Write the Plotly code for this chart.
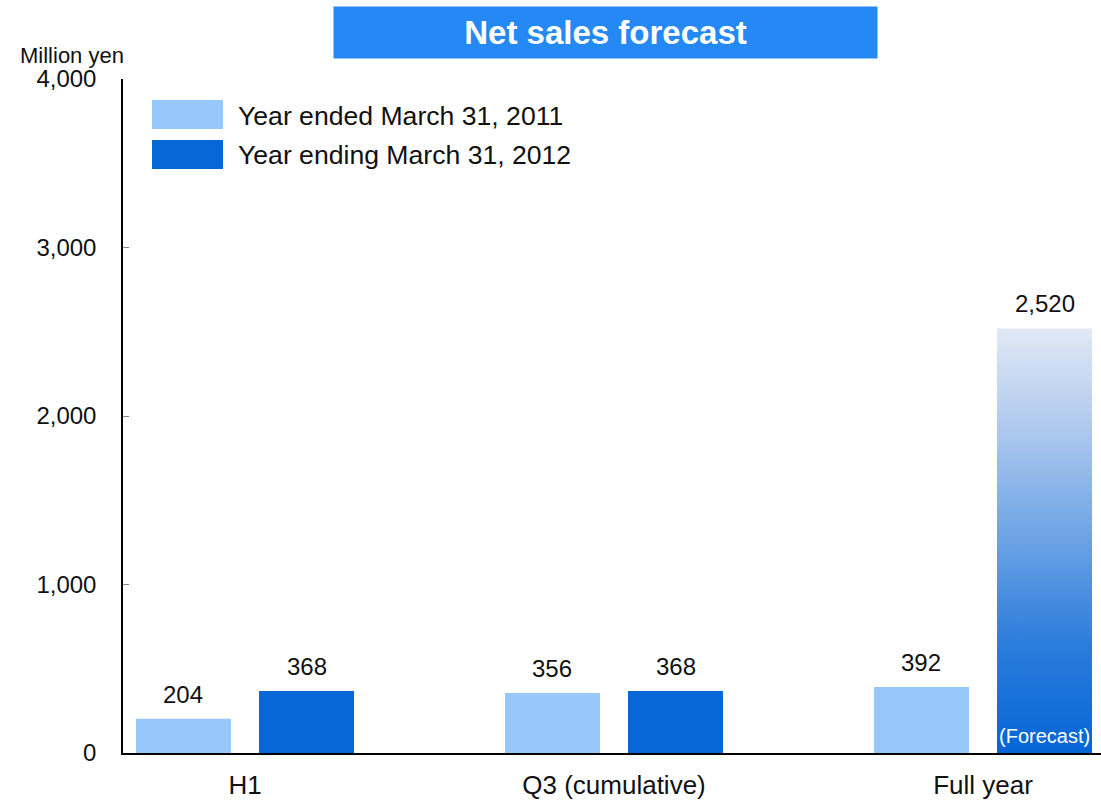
import plotly.graph_objects as go

categories = ["H1", "Q3 (cumulative)", "Full year"]
series_names = ["Year ended March 31, 2011", "Year ending March 31, 2012"]
values_2011 = [204, 356, 392]
values_2012 = [368, 368, 2520]
forecast_flags = [False, False, True]
y_ticks = [0, 1000, 2000, 3000, 4000]
title_text = "Net sales forecast"
unit_text = "Million yen"
forecast_text = "(Forecast)"

LIGHT = "#97C7FB"
DARK = "#0767D6"
FONT = "Liberation Sans, Arial, sans-serif"

W, H = 1101, 801
ML, MR, MT, MB = 123, 0, 79, 48
PW, PH = W - ML - MR, H - MT - MB

def px_x(p):
    return (p - ML) / PW

def px_y(p):
    return (H - MB - p) / PH

BAR_W = 0.2575
CENTER_OFF = 0.1667
offsets = [-CENTER_OFF - BAR_W / 2, CENTER_OFF - BAR_W / 2]
xs = list(range(len(categories)))

fig = go.Figure()

fig.add_trace(go.Bar(
    x=xs, y=values_2011, name=series_names[0], width=BAR_W, offset=offsets[0],
    marker=dict(color=LIGHT, line=dict(width=0)), showlegend=False,
))
colors_2012 = ["rgba(0,0,0,0)" if f else DARK for f in forecast_flags]
fig.add_trace(go.Bar(
    x=xs, y=values_2012, name=series_names[1], width=BAR_W, offset=offsets[1],
    marker=dict(color=colors_2012, line=dict(width=0)), showlegend=False,
))

# gradient fill for forecast bars
for i, (v, f) in enumerate(zip(values_2012, forecast_flags)):
    if not f:
        continue
    x0 = xs[i] + offsets[1]
    x1 = x0 + BAR_W
    fig.add_trace(go.Scatter(
        x=[x0, x1, x1, x0, x0], y=[0, 0, v, v, 0], mode="lines",
        line=dict(width=0), fill="toself",
        fillgradient=dict(type="vertical", start=0, stop=v,
                          colorscale=[[0, "#0565D5"], [0.25, "#2A7CDB"],
                                      [0.5, "#6AA2E5"], [0.75, "#ABC7EE"],
                                      [1, "#E1E8F5"]]),
        showlegend=False, hoverinfo="skip",
    ))
    fig.add_annotation(x=xs[i] + offsets[1] + BAR_W / 2, y=0, text=forecast_text,
                       showarrow=False, yanchor="bottom", yshift=4,
                       font=dict(family=FONT, size=20, color="white"))

# value labels
for vals, off in ((values_2011, offsets[0]), (values_2012, offsets[1])):
    for i, v in enumerate(vals):
        fig.add_annotation(x=xs[i] + off + BAR_W / 2, y=v, text=f"{v:,}",
                           showarrow=False, yanchor="bottom", yshift=9,
                           font=dict(family=FONT, size=24, color="#111"))

# legend (manual, large swatches)
for name, col, cy in ((series_names[0], LIGHT, 114.5), (series_names[1], DARK, 154.5)):
    fig.add_shape(type="rect", xref="paper", yref="paper",
                  x0=px_x(152), x1=px_x(223), y0=px_y(cy - 14.5), y1=px_y(cy + 14.5),
                  fillcolor=col, line=dict(width=0))
    fig.add_annotation(xref="paper", yref="paper", x=px_x(236), y=px_y(cy + 1),
                       text=name, showarrow=False, xanchor="left", yanchor="middle",
                       font=dict(family=FONT, size=26.6, color="#111"))

# title box
fig.add_annotation(xref="paper", yref="paper", x=px_x(605.5), y=px_y(32.5),
                   text=f"<b>{title_text}</b>", showarrow=False,
                   xanchor="center", yanchor="middle", width=543, height=51,
                   bgcolor="#2589F5", borderpad=0,
                   font=dict(family=FONT, size=33, color="white"))

# unit label
fig.add_annotation(xref="paper", yref="paper", x=px_x(72), y=px_y(55),
                   text=unit_text, showarrow=False, xanchor="center", yanchor="middle",
                   font=dict(family=FONT, size=22, color="#111"))

fig.update_layout(
    width=W, height=H,
    margin=dict(l=ML, r=MR, t=MT, b=MB, pad=0),
    paper_bgcolor="white", plot_bgcolor="white",
    barmode="overlay",
    showlegend=False,
    font=dict(family=FONT, color="#111"),
    xaxis=dict(range=[(ML - 245) / 369, (W - 245) / 369],
               tickvals=xs, ticktext=categories, ticks="",
               showline=True, linecolor="black", linewidth=1.5,
               showgrid=False, zeroline=False, tickfont=dict(size=26),
               ticklabelstandoff=8),
    yaxis=dict(range=[0, 4000], tickvals=y_ticks, tickformat=",",
               ticks="inside", ticklen=6, tickcolor="#888",
               showline=True, linecolor="black", linewidth=1.5,
               showgrid=False, zeroline=False, tickfont=dict(size=24),
               ticklabelstandoff=20),
)

fig.write_html("out.html")
